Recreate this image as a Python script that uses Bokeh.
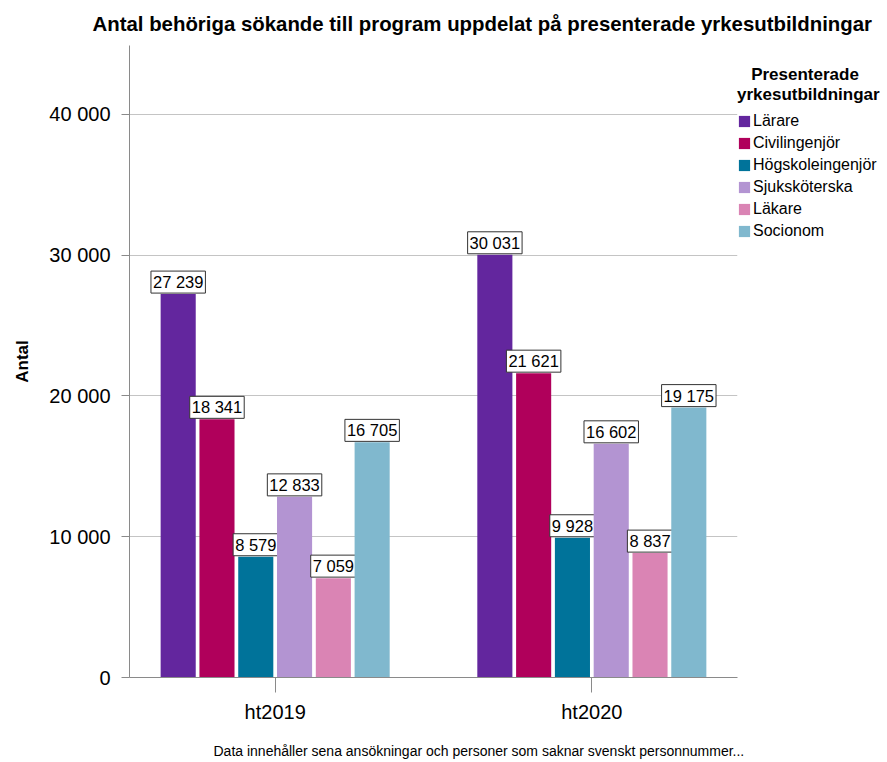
from bokeh.plotting import figure
from bokeh.models import (ColumnDataSource, FactorRange, Range1d, Title,
                          Legend, LegendItem)
from bokeh.core.properties import value
from bokeh.transform import dodge
from bokeh.embed import file_html
from bokeh.resources import INLINE

years = ["ht2019", "ht2020"]
categories = ["Lärare", "Civilingenjör", "Högskoleingenjör", "Sjuksköterska", "Läkare", "Socionom"]
values_ht2019 = [27239, 18341, 8579, 12833, 7059, 16705]
values_ht2020 = [30031, 21621, 9928, 16602, 8837, 19175]
colors = ["#63269e", "#b0005b", "#00739a", "#b394d2", "#da84b4", "#80b8ce"]
y_ticks = [0, 10000, 20000, 30000, 40000]
title_text = "Antal behöriga sökande till program uppdelat på presenterade yrkesutbildningar"
footer_text = "Data innehåller sena ansökningar och personer som saknar svenskt personnummer..."
legend_title = "\u00a0\u00a0\u00a0Presenterade\nyrkesutbildningar"
y_label = "Antal"

FONT = "Liberation Sans"


def fmt(v):
    return f"{v:,}".replace(",", " ")


p = figure(frame_width=608, frame_height=632,
           min_border_left=129, min_border_right=150, min_border_top=45, min_border_bottom=85,
           x_range=FactorRange(factors=years, range_padding=-0.04, range_padding_units="percent"),
           y_range=Range1d(0, 44900),
           output_backend="svg", toolbar_location=None)

p.outline_line_color = None
p.xgrid.grid_line_color = None
p.ygrid.grid_line_color = "#c4c4c4"
p.ygrid.ticker = y_ticks

p.yaxis.ticker = y_ticks
p.yaxis.major_label_overrides = {t: fmt(t) for t in y_ticks}
p.yaxis.minor_tick_line_color = None
p.yaxis.major_tick_in = 0
p.yaxis.major_tick_out = 8
p.yaxis.axis_line_color = "#8a8a8a"
p.yaxis.major_tick_line_color = "#8a8a8a"
p.yaxis.major_label_text_font = FONT
p.yaxis.major_label_text_font_size = "20px"
p.yaxis.major_label_text_color = "#000000"
p.yaxis.major_label_standoff = 11
p.yaxis.axis_label = y_label
p.yaxis.axis_label_text_font = FONT
p.yaxis.axis_label_text_font_size = "17px"
p.yaxis.axis_label_text_font_style = "bold"
p.yaxis.axis_label_text_color = "#000000"
p.yaxis.axis_label_standoff = 14

p.xaxis.major_tick_in = 0
p.xaxis.major_tick_out = 15
p.xaxis.axis_line_color = "#8a8a8a"
p.xaxis.major_tick_line_color = "#8a8a8a"
p.xaxis.major_label_text_font = FONT
p.xaxis.major_label_text_font_size = "20px"
p.xaxis.major_label_text_color = "#000000"
p.xaxis.major_label_standoff = 8

bar_w = 0.1108
pitch = 0.1225
items = []
for i, cat in enumerate(categories):
    vals = [values_ht2019[i], values_ht2020[i]]
    src = ColumnDataSource(dict(year=years, v=vals, label=[fmt(v) for v in vals]))
    off = (i - 2.5) * pitch
    r = p.vbar(x=dodge("year", off, range=p.x_range), top="v", width=bar_w, source=src,
               fill_color=colors[i], line_color=None)
    items.append(LegendItem(label=cat, renderers=[r]))
    p.text(x=dodge("year", off, range=p.x_range), y="v", text="label", source=src,
           text_align="center", text_baseline="bottom", y_offset=-1,
           text_font=value(FONT), text_font_size="16.5px", text_color="#000000",
           background_fill_color="white", border_line_color="#333333",
           border_line_width=1, padding=2)

legend = Legend(items=items, location=(0, 437), glyph_width=14, glyph_height=14,
                label_height=14, spacing=4, label_standoff=2, padding=0, margin=0,
                label_text_font=FONT, label_text_font_size="16px", label_text_color="#000000",
                title=legend_title, title_text_font=FONT, title_text_font_size="17px",
                title_text_font_style="bold", title_text_color="#000000", title_standoff=7,
                border_line_color=None, background_fill_alpha=0)
p.add_layout(legend, "right")

p.add_layout(Title(text=title_text, align="left", offset=-37, standoff=21,
                   text_font=FONT, text_font_size="20.4px", text_font_style="bold",
                   text_color="#000000"), "above")
p.add_layout(Title(text=footer_text, align="left", offset=84, standoff=30,
                   text_font=FONT, text_font_size="14px", text_font_style="normal",
                   text_color="#000000"), "below")

open("out.html", "w").write(file_html(p, INLINE))
